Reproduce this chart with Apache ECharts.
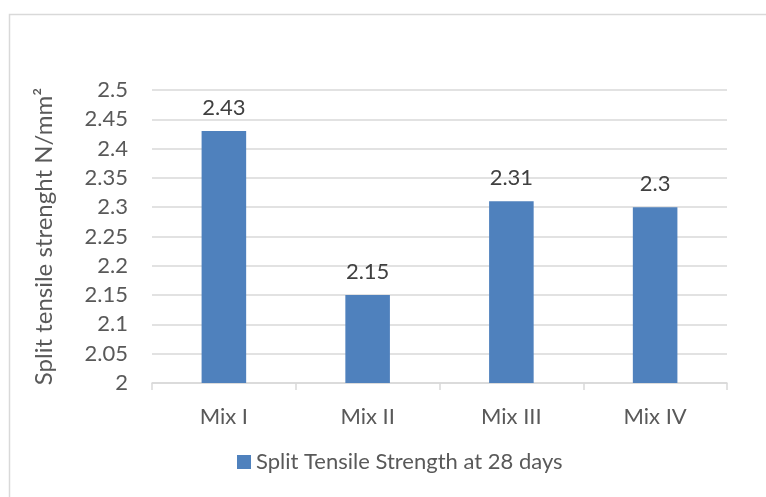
<!DOCTYPE html>
<html>
<head>
<meta charset="utf-8">
<script src="https://cdn.jsdelivr.net/npm/echarts@6/dist/echarts.min.js"></script>
<style>
  html, body { margin: 0; padding: 0; background: #fff; }
  #chart { width: 766px; height: 497px; }
</style>
</head>
<body>
<div id="chart"></div>
<script>
var categories = ['Mix I', 'Mix II', 'Mix III', 'Mix IV'];
var strength = [2.43, 2.15, 2.31, 2.3];
var seriesName = 'Split Tensile Strength at 28 days';
var yTitle = 'Split tensile strenght N/mm\u00b2';

var font = 'Lato, "Open Sans", sans-serif';
var chart = echarts.init(document.getElementById('chart'));

var option = {
  animation: false,
  backgroundColor: '#fff',
  textStyle: { fontFamily: font },
  graphic: [{
    type: 'rect',
    shape: { x: 9.5, y: 14.5, width: 800, height: 600 },
    style: { fill: 'none', stroke: '#d9d9d9', lineWidth: 1.5 },
    silent: true
  }],
  grid: { left: 152, right: 39, top: 90, bottom: 114 },
  legend: {
    bottom: 19,
    left: 232,
    itemWidth: 14,
    itemHeight: 14,
    itemGap: 6,
    icon: 'rect',
    textStyle: { fontSize: 22, color: '#595959', fontFamily: font },
    data: [seriesName]
  },
  xAxis: {
    type: 'category',
    data: categories,
    axisLine: { lineStyle: { color: '#d9d9d9', width: 1.5 } },
    axisTick: { show: true, length: 7, alignWithLabel: false, lineStyle: { color: '#d9d9d9', width: 1.5 } },
    axisLabel: { fontSize: 22, color: '#595959', margin: 23, fontFamily: font }
  },
  yAxis: {
    type: 'value',
    min: 2,
    max: 2.5,
    interval: 0.05,
    name: yTitle,
    nameLocation: 'middle',
    nameGap: 96,
    nameRotate: 90,
    nameTextStyle: { fontSize: 24, color: '#595959', fontFamily: font },
    axisLine: { show: false },
    axisTick: { show: false },
    splitLine: { lineStyle: { color: '#d9d9d9', width: 1.5 } },
    axisLabel: {
      fontSize: 22, color: '#595959', margin: 24, fontFamily: font,
      formatter: function (v) { return String(Math.round(v * 100) / 100); }
    }
  },
  series: [{
    name: seriesName,
    type: 'bar',
    data: strength,
    barWidth: '31%',
    itemStyle: { color: '#4f81bd' },
    label: {
      show: true,
      position: 'top',
      distance: 12,
      fontSize: 22,
      color: '#404040',
      fontFamily: font
    }
  }]
};
chart.setOption(option);
</script>
</body>
</html>
